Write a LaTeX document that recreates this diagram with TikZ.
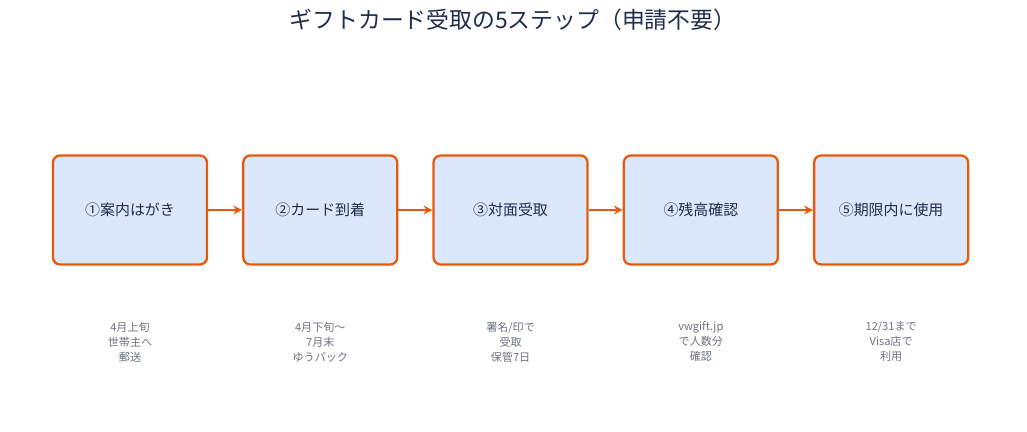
\documentclass[tikz,border=0pt]{standalone}
\usepackage{fontspec}
\setmainfont{Noto Sans CJK JP}
\usepackage{tikz}
\usetikzlibrary{positioning, arrows.meta}
\definecolor{stepline}{HTML}{E8590C}
\definecolor{stepfill}{HTML}{DBE8FB}
\definecolor{titletext}{HTML}{1F2D4A}
\definecolor{notetext}{HTML}{6B7280}
\tikzset{
  stage/.style={rectangle, rounded corners=4pt, minimum width=3.08cm, minimum height=2.18cm, text centered, draw=stepline, line width=1.3pt, fill=stepfill, text=titletext, font=\fontsize{8.5}{10}\selectfont},
  note/.style={align=center, text=notetext, font=\fontsize{6.3}{8.5}\selectfont},
  arrow/.style={line width=1.3pt, draw=stepline, -{Stealth[length=5pt,width=5pt]}}
}
\begin{document}
\begin{tikzpicture}[node distance=0.68cm]
  \useasboundingbox (0,0) rectangle (20.54,-8.64);
  \node (title) at (10.26,-0.4) [text=titletext, font=\fontsize{13}{15}\selectfont] {ギフトカード受取の5ステップ（申請不要）};
  \node (s1) at (2.6,-4.2) [stage] {①案内はがき};
  \node (s2) [stage, right=of s1] {②カード到着};
  \node (s3) [stage, right=of s2] {③対面受取};
  \node (s4) [stage, right=of s3] {④残高確認};
  \node (s5) [stage, right=of s4] {⑤期限内に使用};

  \node (n1) [note, below=1.0cm of s1] {4月上旬\\世帯主へ\\郵送};
  \node (n2) [note, below=1.0cm of s2] {4月下旬〜\\7月末\\ゆうパック};
  \node (n3) [note, below=1.0cm of s3] {署名/印で\\受取\\保管7日};
  \node (n4) [note, below=1.0cm of s4] {vwgift.jp\\で人数分\\確認};
  \node (n5) [note, below=1.0cm of s5] {12/31まで\\Visa店で\\利用};

  \draw [arrow] (s1) -- (s2);
  \draw [arrow] (s2) -- (s3);
  \draw [arrow] (s3) -- (s4);
  \draw [arrow] (s4) -- (s5);
\end{tikzpicture}
\end{document}
